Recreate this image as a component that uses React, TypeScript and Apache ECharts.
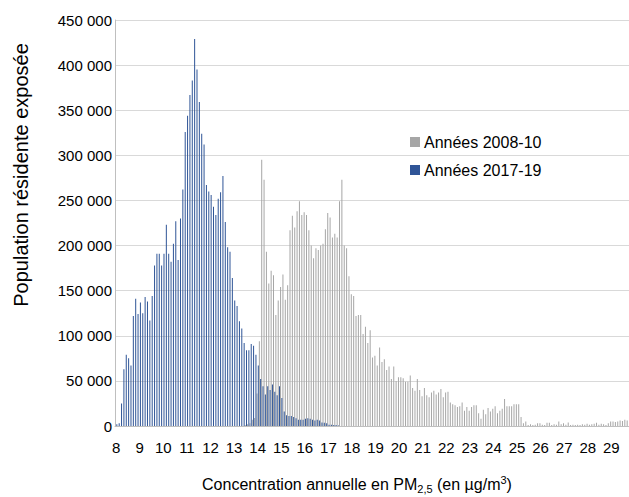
import React, { useEffect, useRef } from "react";
import * as echarts from "echarts";

// Bin axis: PM2.5 concentration from 8.0 by steps of 0.1
const BIN_START = 8.0;
const BIN_STEP = 0.1;
const BIN_COUNT = 218;
const categories: string[] = Array.from({ length: BIN_COUNT }, (_, i) =>
  (BIN_START + i * BIN_STEP).toFixed(1)
);

const xTickLabels = ["8", "9", "10", "11", "12", "13", "14", "15", "16", "17", "18", "19", "20", "21", "22", "23", "24", "25", "26", "27", "28", "29"];

const seriesNames = ["Années 2008-10", "Années 2017-19"];

// Années 2017-19: values from 8.0
const blueValues = [
  2000, 3000, 25000, 63000, 79000, 75000, 67000, 122000, 141000, 124000,
  137000, 125000, 143000, 138000, 117000, 144000, 178000, 191000, 191000, 178000,
  191000, 223000, 191000, 182000, 202000, 227000, 184000, 230000, 262000, 326000,
  344000, 367000, 383000, 429000, 395000, 359000, 324000, 312000, 267000, 260000,
  256000, 243000, 234000, 252000, 259000, 277000, 226000, 198000, 193000, 164000,
  139000, 133000, 116000, 108000, 92000, 84000, 84000, 91000, 89000, 79000,
  67000, 52000, 44000, 35000, 44000, 40000, 46000, 38000, 34000, 44000,
  31000, 16000, 12000, 11000, 11000, 10000, 8500, 7000, 7000, 7000,
  8000, 8500, 8000, 7000, 6000, 7000, 6000, 4000, 3500, 3000,
  1500, 1500, 1000, 1000, 500,
];

// Années 2008-10: values from 13.5 (bin index 55)
const GREY_FIRST_BIN = 55;
const greyValues = [
  1000, 2000, 3000, 7000, 9000,
  36000, 94000, 295000, 273000, 193000,
  158000, 172000, 167000, 123000, 139000,
  154000, 168000, 140000, 156000, 217000,
  233000, 220000, 238000, 249000, 234000,
  237000, 234000, 217000, 200000, 186000,
  197000, 195000, 200000, 202000, 218000,
  236000, 231000, 209000, 213000, 209000,
  249000, 273000, 200000, 197000, 166000,
  146000, 144000, 122000, 123000, 123000,
  102000, 110000, 92000, 106000, 76000,
  78000, 67000, 87000, 71000, 74000,
  62000, 66000, 52000, 66000, 50000,
  54000, 54000, 53000, 49000, 49000,
  56000, 42000, 39000, 52000, 40000,
  33000, 42000, 34000, 32000, 37000,
  39000, 35000, 37000, 41000, 32000,
  37000, 38000, 26000, 24000, 23000,
  21000, 22000, 26000, 17000, 21000,
  17000, 21000, 23000, 23000, 14000,
  8000, 18000, 13000, 20000, 16000,
  19000, 22000, 14000, 17000, 19000,
  30000, 22000, 22000, 22000, 24000,
  24000, 24000, 10000, 3000, 5000,
  1000, 2000, 1000, 1500, 3000,
  3000, 1500, 1000, 3500, 3500,
  1000, 2000, 1500, 5000, 2000,
  3000, 1500, 4000, 1000, 1500,
  1000, 1500, 1000, 2000, 1500,
  2500, 1500, 2000, 2500, 3500,
  1500, 2500, 2000, 1000, 3000,
  5000, 5000, 4500, 5000, 6000,
  5500, 7000, 6000,
];

const FONT = "'Liberation Sans', Arial, sans-serif";

function fmtThousands(v: number): string {
  return String(v).replace(/\B(?=(\d{3})+(?!\d))/g, " ");
}

export default function App() {
  const ref = useRef<HTMLDivElement>(null);
  useEffect(() => {
    if (!ref.current) return;
    const chart = echarts.init(ref.current, null, { renderer: "svg" });

    const blueData = categories.map((_, i) => (i < blueValues.length ? blueValues[i] : null));
    const greyData = categories.map((_, i) => {
      const k = i - GREY_FIRST_BIN;
      return k >= 0 && k < greyValues.length ? greyValues[k] : null;
    });

    chart.setOption({
      animation: false,
      backgroundColor: "#ffffff",
      textStyle: { fontFamily: FONT },
      grid: { left: 115, right: 0, top: 20, bottom: 71, containLabel: false },
      legend: {
        data: seriesNames,
        orient: "vertical",
        left: 410,
        top: 134,
        padding: 0,
        itemWidth: 10,
        itemHeight: 10,
        itemGap: 12,
        icon: "rect",
        textStyle: { fontSize: 16, color: "#000", fontFamily: FONT, padding: [0, 0, 0, -1] },
      },
      xAxis: {
        type: "category",
        data: categories,
        boundaryGap: true,
        axisTick: { show: false },
        axisLine: { lineStyle: { color: "#BFBFBF", width: 1 } },
        axisLabel: {
          interval: 9,
          margin: 14,
          fontSize: 15,
          color: "#000",
          fontFamily: FONT,
          formatter: (v: string, idx: number) => xTickLabels[Math.round(idx / 10)] ?? "",
        },
        splitLine: { show: false },
      },
      yAxis: {
        type: "value",
        min: 0,
        max: 450000,
        interval: 50000,
        axisLine: { show: true, lineStyle: { color: "#BFBFBF", width: 1 } },
        axisTick: { show: false },
        axisLabel: {
          margin: 3,
          fontSize: 15,
          color: "#000",
          fontFamily: FONT,
          formatter: (v: number) => fmtThousands(v),
        },
        splitLine: { lineStyle: { color: "#D9D9D9", width: 1 } },
      },
      series: [
        {
          name: seriesNames[0],
          type: "bar",
          data: greyData,
          barWidth: 1,
          barGap: "30%",
          itemStyle: { color: "#A6A6A6" },
        },
        {
          name: seriesNames[1],
          type: "bar",
          data: blueData,
          barWidth: 1,
          barGap: "30%",
          itemStyle: { color: "#2F5597" },
        },
      ],
      graphic: [
        {
          type: "text",
          x: 21,
          y: 175,
          rotation: Math.PI / 2,
          style: {
            text: "Population résidente exposée",
            fontSize: 20,
            fontFamily: FONT,
            fill: "#000",
            align: "center",
            verticalAlign: "middle",
          },
        },
        {
          type: "text",
          x: 357,
          y: 484,
          style: {
            text: "Concentration annuelle en PM{sub|2,5} (en µg/m{sup|3})",
            fontSize: 16,
            fontFamily: FONT,
            fill: "#000",
            align: "center",
            verticalAlign: "middle",
            rich: {
              sub: { fontSize: 11, fontFamily: FONT, fill: "#000", padding: [9, 0, 0, 0] },
              sup: { fontSize: 11, fontFamily: FONT, fill: "#000", padding: [0, 0, 9, 0] },
            },
          },
        },
      ],
    });
    return () => chart.dispose();
  }, []);
  return (
    <div
      ref={ref}
      style={{ position: "fixed", left: 0, top: 0, width: 629, height: 497, background: "#fff" }}
    />
  );
}
